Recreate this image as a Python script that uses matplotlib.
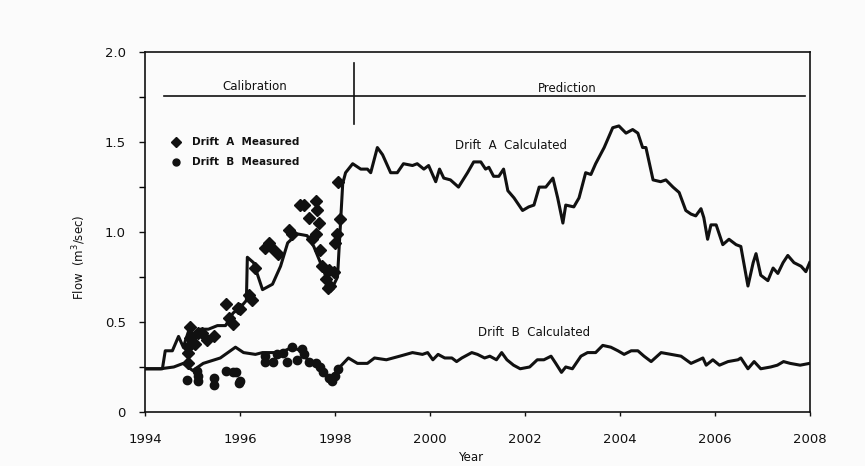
import numpy as np
import matplotlib
matplotlib.use('Agg')
import matplotlib.pyplot as plt
from matplotlib.ticker import MultipleLocator

# Drift A calculated flow (m3/sec)
a_year = [1994.0, 1994.36, 1994.42, 1994.57, 1994.7, 1994.8, 1994.95, 1995.0, 1995.16, 1995.33,
          1995.52, 1995.69, 1995.85, 1996.0, 1996.13, 1996.15, 1996.28, 1996.47, 1996.68, 1996.85,
          1997.0, 1997.2, 1997.41, 1997.55, 1997.69, 1997.84, 1997.94, 1998.05, 1998.12, 1998.16,
          1998.22, 1998.37, 1998.54, 1998.68, 1998.75, 1998.89, 1999.0, 1999.17, 1999.31, 1999.44,
          1999.63, 1999.73, 1999.87, 1999.97, 2000.12, 2000.2, 2000.29, 2000.43, 2000.6, 2000.79,
          2000.92, 2001.07, 2001.17, 2001.24, 2001.34, 2001.45, 2001.55, 2001.64, 2001.77, 2001.95,
          2002.08, 2002.19, 2002.3, 2002.44, 2002.59, 2002.69, 2002.8, 2002.86, 2003.03, 2003.14,
          2003.28, 2003.39, 2003.49, 2003.67, 2003.85, 2003.98, 2004.13, 2004.27, 2004.38, 2004.48,
          2004.55, 2004.7, 2004.86, 2004.97, 2005.12, 2005.25, 2005.39, 2005.5, 2005.6, 2005.71,
          2005.77, 2005.85, 2005.92, 2006.03, 2006.17, 2006.3, 2006.45, 2006.55, 2006.7, 2006.81,
          2006.87, 2006.97, 2007.12, 2007.23, 2007.33, 2007.44, 2007.54, 2007.67, 2007.82, 2007.92,
          2008.0]
a_flow = [0.24, 0.24, 0.34, 0.34, 0.42, 0.36, 0.48, 0.40, 0.46, 0.46,
          0.48, 0.48, 0.55, 0.58, 0.62, 0.86, 0.83, 0.68, 0.71, 0.81,
          0.94, 0.99, 0.98, 0.92, 0.83, 0.73, 0.69, 0.75, 1.08, 1.27,
          1.33, 1.38, 1.35, 1.35, 1.33, 1.47, 1.43, 1.33, 1.33, 1.38,
          1.37, 1.38, 1.35, 1.37, 1.28, 1.35, 1.30, 1.29, 1.25, 1.33,
          1.39, 1.39, 1.35, 1.36, 1.31, 1.31, 1.35, 1.23, 1.19, 1.12,
          1.14, 1.15, 1.25, 1.25, 1.30, 1.19, 1.05, 1.15, 1.14, 1.19,
          1.33, 1.32, 1.38, 1.47, 1.58, 1.59, 1.55, 1.57, 1.55, 1.47,
          1.47, 1.29, 1.28, 1.29, 1.25, 1.22, 1.12, 1.10, 1.09, 1.13,
          1.08, 0.96, 1.04, 1.04, 0.93, 0.96, 0.93, 0.92, 0.70, 0.83,
          0.88, 0.76, 0.73, 0.80, 0.77, 0.83, 0.87, 0.83, 0.81, 0.78,
          0.83]

# Drift B calculated flow (m3/sec)
b_year = [1994.0, 1994.32, 1994.6, 1994.8, 1995.0, 1995.22, 1995.58, 1995.9, 1996.07, 1996.32,
          1996.47, 1996.64, 1996.85, 1997.1, 1997.27, 1997.42, 1997.63, 1997.84, 1997.94, 1998.1,
          1998.28, 1998.47, 1998.68, 1998.83, 1999.08, 1999.36, 1999.63, 1999.84, 1999.95, 2000.06,
          2000.17, 2000.31, 2000.46, 2000.56, 2000.67, 2000.88, 2001.0, 2001.15, 2001.26, 2001.4,
          2001.51, 2001.62, 2001.76, 2001.9, 2002.1, 2002.26, 2002.4, 2002.55, 2002.65, 2002.77,
          2002.86, 2003.0, 2003.18, 2003.32, 2003.49, 2003.64, 2003.81, 2003.96, 2004.09, 2004.24,
          2004.38, 2004.51, 2004.66, 2004.87, 2005.08, 2005.29, 2005.5, 2005.67, 2005.75, 2005.82,
          2005.96, 2006.1, 2006.28, 2006.49, 2006.55, 2006.7, 2006.83, 2006.97, 2007.18, 2007.32,
          2007.45, 2007.59, 2007.8, 2008.0]
b_flow = [0.24, 0.24, 0.25, 0.27, 0.23, 0.27, 0.30, 0.36, 0.33, 0.32,
          0.33, 0.33, 0.33, 0.36, 0.34, 0.29, 0.25, 0.19, 0.17, 0.25,
          0.30, 0.27, 0.27, 0.30, 0.29, 0.31, 0.33, 0.32, 0.33, 0.29,
          0.32, 0.30, 0.30, 0.28, 0.30, 0.33, 0.32, 0.30, 0.31, 0.29,
          0.33, 0.29, 0.26, 0.24, 0.25, 0.29, 0.29, 0.31, 0.27, 0.22,
          0.25, 0.24, 0.31, 0.33, 0.33, 0.37, 0.36, 0.34, 0.32, 0.34,
          0.34, 0.31, 0.28, 0.33, 0.32, 0.31, 0.27, 0.29, 0.30, 0.26,
          0.29, 0.26, 0.28, 0.29, 0.30, 0.24, 0.28, 0.24, 0.25, 0.26,
          0.28, 0.27, 0.26, 0.27]

# Drift A measured
am_year = [1994.9, 1994.9, 1994.95, 1994.95, 1995.1, 1995.2, 1995.44, 1995.69, 1995.76, 1995.84,
           1995.95, 1996.0, 1996.18, 1996.25, 1996.32, 1996.53, 1996.6, 1996.68, 1996.8, 1997.02,
           1997.1, 1997.27, 1997.34, 1997.44, 1997.52, 1997.59, 1997.62, 1997.66, 1997.59, 1997.69,
           1997.73, 1997.8, 1997.84, 1997.9, 1997.87, 1997.97, 1998.0, 1998.05, 1998.1, 1998.07,
           1994.9, 1995.05, 1995.3]
am_flow = [0.33, 0.36, 0.47, 0.41, 0.44, 0.44, 0.42, 0.60, 0.52, 0.49,
           0.58, 0.57, 0.65, 0.62, 0.80, 0.91, 0.94, 0.91, 0.88, 1.01,
           0.99, 1.15, 1.15, 1.08, 0.96, 1.17, 1.12, 1.05, 0.99, 0.90,
           0.81, 0.74, 0.69, 0.70, 0.79, 0.78, 0.94, 0.99, 1.07, 1.28,
           0.27, 0.38, 0.40]

# Drift B measured
bm_year = [1994.88, 1995.12, 1995.12, 1995.44, 1995.44, 1995.69, 1995.84, 1995.92, 1996.0, 1995.97,
           1995.08, 1996.53, 1996.53, 1996.7, 1996.78, 1996.91, 1996.99, 1997.1, 1997.2, 1997.3,
           1997.34, 1997.44, 1997.59, 1997.69, 1997.75, 1997.87, 1997.94, 1998.0, 1998.07]
bm_flow = [0.18, 0.20, 0.17, 0.19, 0.15, 0.23, 0.22, 0.22, 0.17, 0.16,
           0.23, 0.31, 0.28, 0.28, 0.32, 0.33, 0.28, 0.36, 0.29, 0.35,
           0.32, 0.28, 0.27, 0.25, 0.22, 0.19, 0.17, 0.20, 0.24]

x_ticks = [1994, 1996, 1998, 2000, 2002, 2004, 2006, 2008]
y_ticks = [0, 0.5, 1.0, 1.5, 2.0]
y_tick_labels = ['0', '0.5', '1.0', '1.5', '2.0']

ink = '#111111'
fig = plt.figure(figsize=(8.65, 4.66), dpi=100)
fig.patch.set_facecolor('#fbfbfb')
ax = fig.add_axes([0.168, 0.116, 0.768, 0.772])
ax.set_facecolor('#fbfbfb')

ax.plot(a_year, a_flow, color=ink, lw=2.2, solid_joinstyle='round')
ax.plot(b_year, b_flow, color=ink, lw=2.2, solid_joinstyle='round')
ax.plot(am_year, am_flow, 'D', color=ink, ms=6.5, mec=ink)
ax.plot(bm_year, bm_flow, 'o', color=ink, ms=6, mec=ink)

# calibration / prediction divider
ax.plot([1994.4, 2007.9], [1.755, 1.755], color=ink, lw=1.2)
ax.plot([1998.4, 1998.4], [1.6, 1.94], color=ink, lw=1.2)
ax.text(1996.3, 1.81, 'Calibration', ha='center', va='center', fontsize=8.5, color=ink)
ax.text(2002.9, 1.80, 'Prediction', ha='center', va='center', fontsize=8.5, color=ink)

# legend drawn by hand, like the original
ax.plot([1994.65], [1.50], 'D', color=ink, ms=5.5)
ax.plot([1994.65], [1.39], 'o', color=ink, ms=5)
ax.text(1994.98, 1.50, 'Drift  A  Measured', va='center', fontsize=7.5, color=ink, fontweight='bold')
ax.text(1994.98, 1.39, 'Drift  B  Measured', va='center', fontsize=7.5, color=ink, fontweight='bold')

ax.text(2001.7, 1.48, 'Drift  A  Calculated', ha='center', va='center', fontsize=8.5, color=ink)
ax.text(2002.2, 0.44, 'Drift  B  Calculated', ha='center', va='center', fontsize=8.5, color=ink)

ax.set_xlim(1994, 2008)
ax.set_ylim(0, 2.0)
ax.set_xticks(x_ticks)
ax.set_yticks(y_ticks)
ax.set_yticklabels(y_tick_labels)
ax.yaxis.set_minor_locator(MultipleLocator(0.25))
ax.tick_params(axis='both', labelsize=9.5, colors=ink, direction='out', width=1.0)
ax.tick_params(axis='x', length=3, pad=12)
ax.tick_params(axis='y', which='major', length=4, pad=10)
ax.tick_params(axis='y', which='minor', length=4, width=1.0)
for s in ax.spines.values():
    s.set_linewidth(1.2)
    s.set_color(ink)

ax.set_ylabel('Flow  (m$^3$/sec)', fontsize=8.5, color=ink)
ax.yaxis.set_label_coords(-0.086, 0.43)
ax.set_xlabel('Year', fontsize=8.5, color=ink)
ax.xaxis.set_label_coords(0.49, -0.108)

fig.savefig('out.png', dpi=100, facecolor=fig.get_facecolor())
